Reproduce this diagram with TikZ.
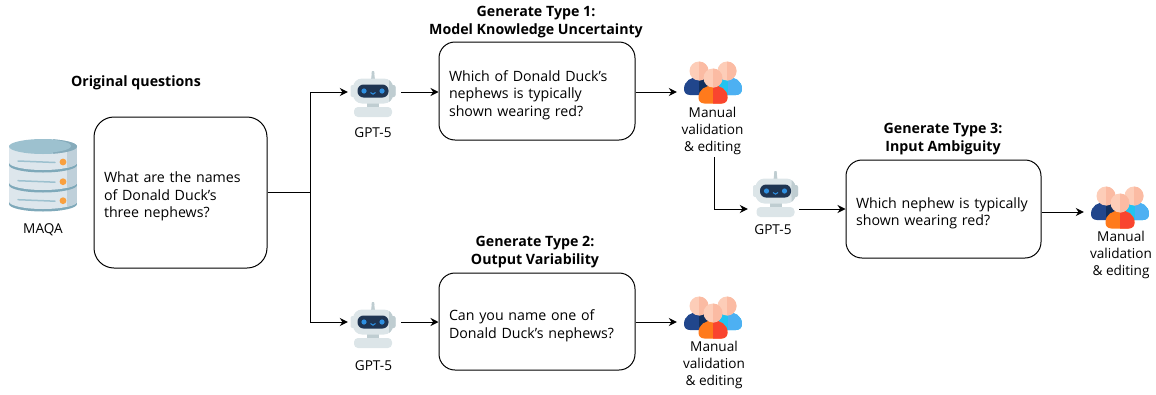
\documentclass[tikz,border=0pt]{standalone}
\usepackage{fontspec}
\setmainfont{Open Sans}
\usetikzlibrary{arrows.meta}
\definecolor{dbbody}{HTML}{DDE6EC}
\definecolor{dbshade}{HTML}{BFD0DA}
\definecolor{dbtop}{HTML}{9DC1CF}
\definecolor{dbtopd}{HTML}{86ABBB}
\definecolor{dbline}{HTML}{7FA9BA}
\definecolor{dborange}{HTML}{F9A03F}
\definecolor{rbody}{HTML}{DCE5E8}
\definecolor{rshade}{HTML}{BFCDD1}
\definecolor{rface}{HTML}{1F3552}
\definecolor{reye}{HTML}{2E8FE0}
\definecolor{pnavy}{HTML}{21468C}
\definecolor{pnavyd}{HTML}{13305E}
\definecolor{pcyan}{HTML}{22C3F0}
\definecolor{psky}{HTML}{4DB0F2}
\definecolor{porange}{HTML}{FF7A1C}
\definecolor{pred}{HTML}{F9452F}
\definecolor{pskin}{HTML}{FDCDB8}
\definecolor{pskind}{HTML}{FBBBA3}
\newcommand\firstln{\rule{0pt}{19pt}}
\def\domepath{(6,18) .. controls (2,18) and (0,15.5) .. (0,12) .. controls (0,4) and (7,0) .. (14.5,0) .. controls (22,0) and (29,4) .. (29,12) .. controls (29,15.5) and (27,18) .. (23,18) -- cycle}
\tikzset{
  x=1pt,y=-1pt,
  box/.style={draw=black,line width=1pt,rounded corners=16pt,align=left,inner xsep=10pt,inner ysep=0pt,anchor=center,font=\fontsize{14.2}{17.5}\selectfont},
  title/.style={align=center,font=\fontsize{14.2}{18}\selectfont\bfseries},
  caption/.style={align=center,font=\fontsize{13.6}{17}\selectfont},
  icon/.style={inner sep=0pt,minimum height=20pt},
  link/.style={line width=1pt,-{Stealth[length=8pt,width=8pt]}},
  plainlink/.style={line width=1pt},
  robot/.pic={
    \fill[rshade] (-1,-20) -- (1,-20) -- (2,-11) -- (-2,-11) -- cycle;
    \fill[rshade] (0,-18) circle (1.7);
    \fill[rshade] (-6,10) rectangle (6,18);
    \fill[rbody,rounded corners=4pt] (-19,26) -- (-19,16) -- (19,16) -- (19,26) -- cycle;
    \fill[rbody,rounded corners=2pt] (-22.5,-6) rectangle (22.5,6);
    \fill[rbody,rounded corners=9pt] (-20,-12.5) rectangle (20,12.5);
    \begin{scope}
      \clip (16,-13) rectangle (23,13);
      \fill[rshade,rounded corners=2pt] (-22.5,-6) rectangle (22.5,6);
      \fill[rshade,rounded corners=9pt] (-20,-12.5) rectangle (20,12.5);
    \end{scope}
    \fill[rface,rounded corners=6pt] (-15.5,-6.5) rectangle (15.5,6.5);
    \fill[reye] (-9,0) circle (2.6) (9,0) circle (2.6);
    \draw[reye,line width=1pt] (-2.5,1.5) .. controls (-1.5,3.7) and (1.5,3.7) .. (2.5,1.5);
  },
  people/.pic={
    \begin{scope}[shift={(-29,-6)}]
      \fill[pnavy] \domepath;
      \begin{scope}\clip \domepath; \fill[pnavyd] (14.5,-1) rectangle (30,19);\end{scope}
    \end{scope}
    \begin{scope}[shift={(0,-6)}]
      \fill[pcyan] \domepath;
      \begin{scope}\clip \domepath; \fill[psky] (14.5,-1) rectangle (30,19);\end{scope}
    \end{scope}
    \fill[pskin] (-14,-12) circle (9.5);
    \fill[pskin] (14,-12) circle (9.5);
    \begin{scope}\clip (-14,-22) rectangle (-4,-2);\fill[pskind] (-14,-12) circle (9.5);\end{scope}
    \begin{scope}\clip (14,-22) rectangle (24,-2);\fill[pskind] (14,-12) circle (9.5);\end{scope}
    \begin{scope}[shift={(-14.5,2.5)}]
      \fill[porange] \domepath;
      \begin{scope}\clip \domepath; \fill[pred] (14.5,-1) rectangle (30,19);\end{scope}
    \end{scope}
    \fill[pskin] (0,-5) circle (9.5);
    \begin{scope}\clip (0,-15) rectangle (10,5);\fill[pskind] (0,-5) circle (9.5);\end{scope}
  },
  database/.pic={
    \foreach \yy in {29,10,-10}{
      \fill[dbline] (-34,\yy-20) rectangle (34,\yy);
      \fill[dbline] (0,\yy) ellipse (34 and 7.5);
      \fill[dbbody] (-34,\yy-20) rectangle (34,\yy-2.5);
      \fill[dbbody] (0,\yy-2.5) ellipse (34 and 7.5);
      \begin{scope}
        \clip (24,\yy-21) rectangle (35,\yy+8);
        \fill[dbshade] (-34,\yy-20) rectangle (34,\yy-2.5);
        \fill[dbshade] (0,\yy-2.5) ellipse (34 and 7.5);
      \end{scope}
    }
    \fill[dbtop] (0,-28.5) ellipse (34 and 7.5);
    \begin{scope}
      \clip (10,-37) rectangle (35,-20);
      \fill[dbtopd] (0,-28.5) ellipse (34 and 7.5);
      \fill[dbtop] (-4,-29) ellipse (32 and 7);
    \end{scope}
    \foreach \yy in {-13,6.7,25.7}{
      \draw[dbtop,line width=1.5pt,line cap=round] (-25,\yy-1) -- (12,\yy+0.5);
      \fill[dborange] (20,\yy) circle (3.4);
    }
  },
}
\begin{document}
\begin{tikzpicture}
\useasboundingbox (0,0) rectangle (1156,394);
% boxes
\node[box,minimum width=173pt,minimum height=151pt,text width=153pt,rounded corners=20pt] (q0) at (180.5,192.5) {\firstln What are the names\\of Donald Duck's\\three nephews?};
\node[box,minimum width=196pt,minimum height=98pt,text width=176pt] (q1) at (537,91) {\firstln Which of Donald Duck's\\nephews is typically\\shown wearing red?};
\node[box,minimum width=196pt,minimum height=97pt,text width=176pt] (q2) at (537,321.5) {\firstln Can you name one of\\Donald Duck's nephews?};
\node[box,minimum width=195pt,minimum height=98pt,text width=175pt] (q3) at (943.5,209) {\firstln Which nephew is typically\\shown wearing red?};
% titles
\node[title] (t0) at (136,83) {Original questions};
\node[title] (t1) at (536,22) {Generate Type 1:\\Model Knowledge Uncertainty};
\node[title] (t2) at (535,252) {Generate Type 2:\\Output Variability};
\node[title] (t3) at (943,139) {Generate Type 3:\\Input Ambiguity};
% icons
\node[icon,minimum width=68pt] (db) at (43,175) {};
\pic at (db) {database};
\node[caption] (dbl) at (43,230) {MAQA};
\node[icon,minimum width=53pt] (r1) at (374.5,92) {};
\node[icon,minimum width=53pt] (r2) at (374.5,322) {};
\node[icon,minimum width=51pt] (r3) at (773.5,209) {};
\pic at (373,91) {robot};
\pic at (373,322) {robot};
\pic at (775.5,191) {robot};
\node[caption] (g1) at (373,132.5) {GPT-5};
\node[caption] (g2) at (373.5,366) {GPT-5};
\node[caption] (g3) at (773,230) {GPT-5};
\node[icon,minimum width=72pt] (p1) at (713,92) {};
\node[icon,minimum width=72pt] (p2) at (713,322) {};
\node[icon,minimum width=72pt] (p3) at (1120,212) {};
\pic at (713,83) {people};
\pic at (713,318) {people};
\pic at (1120,208) {people};
\node[caption] (c1) at (712.5,131) {Manual\\validation\\\& editing};
\node[caption] (c2) at (714,365) {Manual\\validation\\\& editing};
\node[caption] (c3) at (1121,255) {Manual\\validation\\\& editing};
% connectors
\coordinate (j) at (310,192.5);
\coordinate (c1b) at (714,157);
\draw[plainlink] (q0.east) -- (j);
\draw[link] (j) |- (r1.west);
\draw[link] (j) |- (r2.west);
\draw[link] (r1.east) -- (q1.west |- r1.east);
\draw[link] (r2.east) -- (q2.west |- r2.east);
\draw[link] (q1.east |- p1.west) -- (p1.west);
\draw[link] (q2.east |- p2.west) -- (p2.west);
\draw[link] (c1b) |- (r3.west);
\draw[link] (r3.east) -- (q3.west |- r3.east);
\draw[link] (q3.east |- p3.west) -- (p3.west);
\end{tikzpicture}
\end{document}
